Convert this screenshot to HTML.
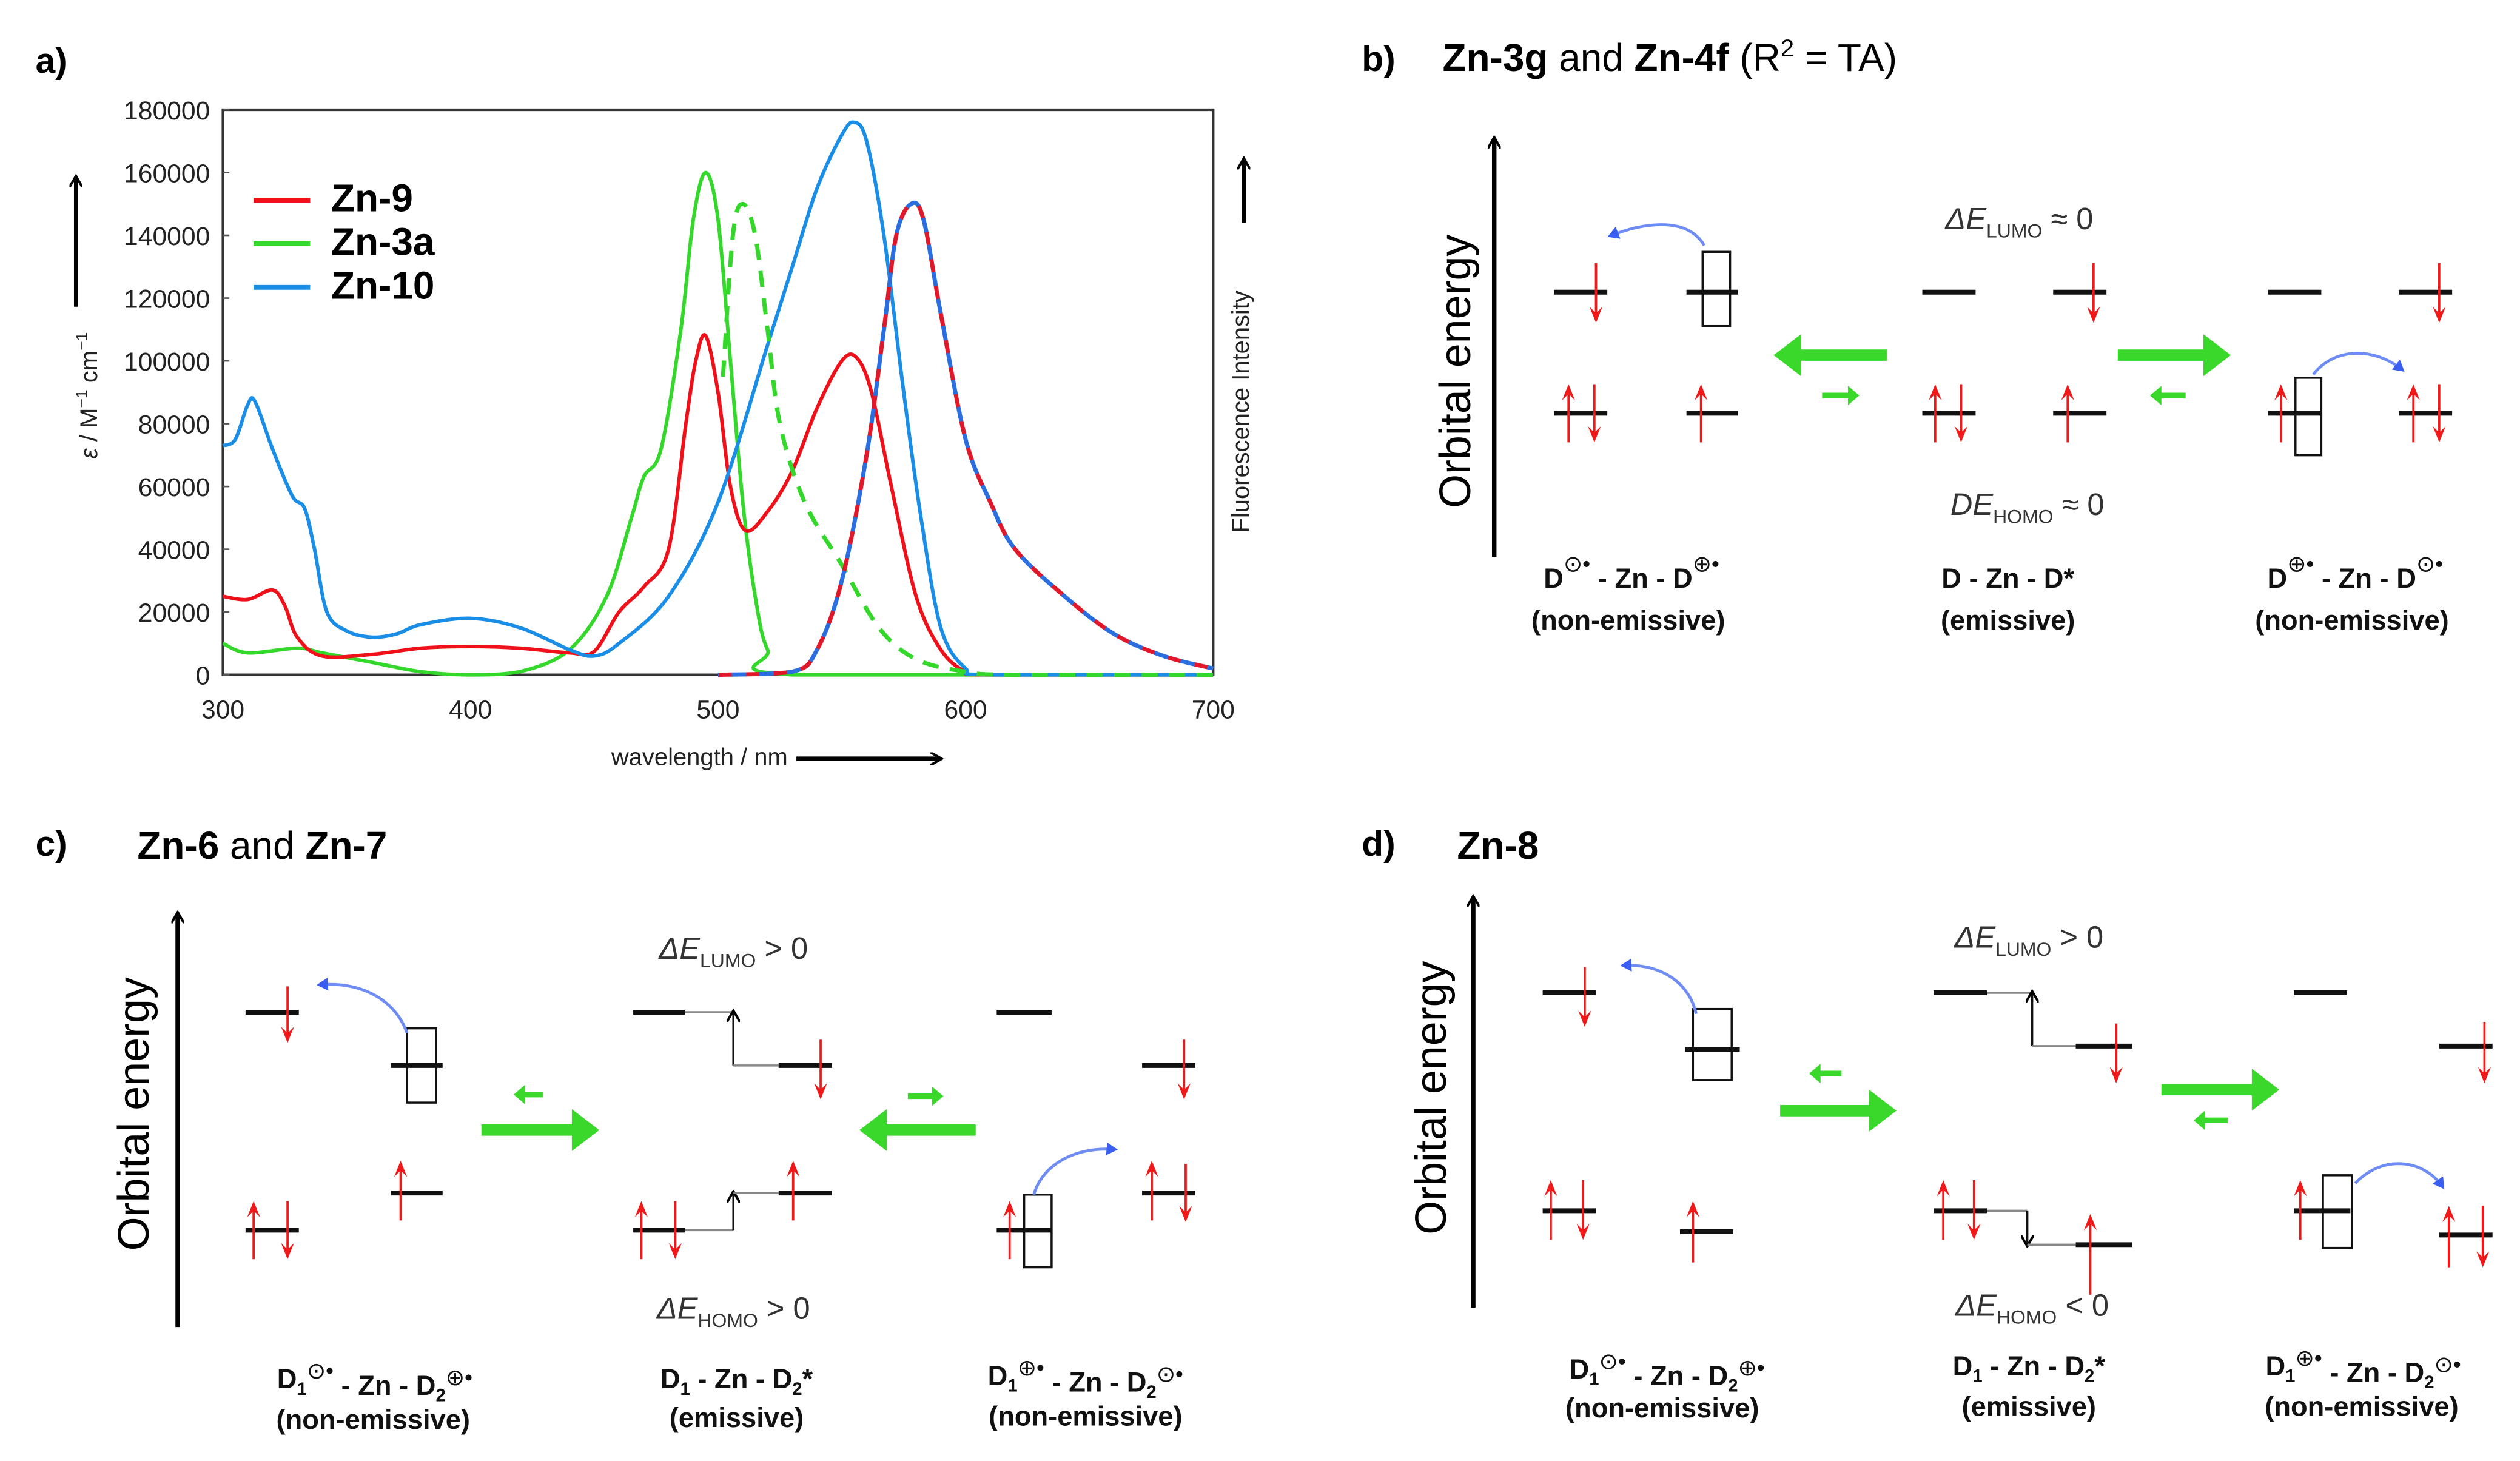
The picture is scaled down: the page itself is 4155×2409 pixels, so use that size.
<!DOCTYPE html>
<html><head><meta charset="utf-8">
<style>
html,body{margin:0;padding:0;background:#fff;}
svg{display:block;}
text{font-family:"Liberation Sans",sans-serif;}
</style></head>
<body>
<svg id="fig" width="4155" height="2409" viewBox="0 0 1560 905" preserveAspectRatio="none" xmlns="http://www.w3.org/2000/svg">
<rect x="0" y="0" width="1560" height="905" fill="#fff"/>
<defs>
<marker id="ah" markerWidth="8" markerHeight="8" refX="6" refY="4" orient="auto" markerUnits="userSpaceOnUse"><path d="M0,0 L7,4 L0,8" fill="none" stroke="#000" stroke-width="1.5"/></marker>
<marker id="bh" markerWidth="8" markerHeight="8" refX="5" refY="4" orient="auto" markerUnits="userSpaceOnUse"><path d="M0,0 L7,4 L0,8 Z" fill="#3a5ff0"/></marker>
</defs>
<g>
<text x="22" y="45" font-size="22" font-weight="bold">a)</text>
<g id="chart"></g>
<text transform="translate(60,245) rotate(-90)" text-anchor="middle" font-size="15" fill="#222"><tspan font-style="italic">ε</tspan> / M<tspan dy="-6" font-size="10">−1</tspan><tspan dy="6"> cm</tspan><tspan dy="-6" font-size="10">−1</tspan></text>
<line x1="47" y1="190" x2="47" y2="110" stroke="#000" stroke-width="2.4" marker-end="url(#ah)"/>
<text transform="translate(773,255) rotate(-90)" text-anchor="middle" font-size="15" fill="#222">Fluorescence Intensity</text>
<line x1="770" y1="138" x2="770" y2="99" stroke="#000" stroke-width="2.4" marker-end="url(#ah)"/>
<text x="433" y="474" text-anchor="middle" font-size="15" fill="#222">wavelength / nm</text>
<line x1="493" y1="470" x2="582" y2="470" stroke="#000" stroke-width="2.8" marker-end="url(#ah)"/>
<g>
<line x1="157" y1="124" x2="192" y2="124" stroke="#f0101a" stroke-width="3"/>
<text x="205" y="131" font-size="24" font-weight="bold">Zn-9</text>
<line x1="157" y1="151" x2="192" y2="151" stroke="#33d82a" stroke-width="3"/>
<text x="205" y="158" font-size="24" font-weight="bold">Zn-3a</text>
<line x1="157" y1="178" x2="192" y2="178" stroke="#1a8ee6" stroke-width="3"/>
<text x="205" y="185" font-size="24" font-weight="bold">Zn-10</text>
</g>
</g>
<g id="diagrams"></g>
</svg>
<script>
const xTicks = [300, 400, 500, 600, 700];
const yTicks = [0, 20000, 40000, 60000, 80000, 100000, 120000, 140000, 160000, 180000];
const zn9AbsX = [300,310,320,325,330,340,360,380,400,420,440,450,460,470,480,487,491,495,500,505,511,520,530,540,550,556,562,570,580,590,600,610,700];
const zn9AbsY = [25000,24000,27000,22000,12000,6000,6500,8500,9000,8500,7000,7500,20000,28000,40000,80000,100000,108000,90000,60000,46000,52000,65000,85000,100000,101000,90000,60000,25000,8000,1000,0,0];
const zn3aAbsX = [300,310,330,340,360,380,400,420,440,455,465,470,477,485,490,495,500,505,510,515,520,530,700];
const zn3aAbsY = [10000,7000,8500,7000,4000,1000,0,1000,8000,25000,50000,63000,72000,110000,145000,160000,145000,100000,55000,25000,8000,0,0];
const zn10AbsX = [300,305,310,313,320,328,333,337,342,350,360,370,380,400,420,440,450,460,480,500,520,530,540,550,555,560,567,575,582,590,600,610,700];
const zn10AbsY = [73000,75000,86000,87000,72000,57000,53000,40000,20000,14000,12000,13000,16000,18000,15000,8000,6000,10000,25000,55000,105000,130000,155000,172000,176000,170000,140000,90000,50000,15000,2000,0,0];
const zn3aEmX = [502,506,510,515,520,525,535,550,565,580,600,620,700];
const zn3aEmY = [95000,140000,150000,140000,110000,80000,55000,35000,15000,5000,1000,0,0];
const zn9EmX = [500,530,540,550,560,567,572,578,583,590,600,610,620,640,660,680,700];
const zn9EmY = [0,1000,8000,30000,70000,110000,140000,150000,145000,115000,75000,55000,40000,25000,13000,6000,2000];
const zn10EmX = [500,530,540,550,560,567,572,578,583,590,600,610,620,640,660,680,700];
const zn10EmY = [0,1000,8000,30000,70000,110000,140000,150000,145000,115000,75000,55000,40000,25000,13000,6000,2000];

const NS = 'http://www.w3.org/2000/svg';
const PL = 138, PR = 751, PT = 68, PB = 418;
function xs(w){ return PL + (w - 300) / 400 * (PR - PL); }
function ys(v){ return PB - v / 180000 * (PB - PT); }
const chart = document.getElementById('chart');
function mk(tag, attrs, parent){
  const e = document.createElementNS(NS, tag);
  for (const k in attrs) e.setAttribute(k, attrs[k]);
  parent.appendChild(e);
  return e;
}
let fr = mk('rect', {x:PL, y:PT, width:PR-PL, height:PB-PT, fill:'none', stroke:'#333', 'stroke-width':1.6}, chart);


yTicks.forEach(t => {
  const tl = mk('text', {x:130, y:ys(t)+6, 'text-anchor':'end', 'font-size':16, fill:'#222'}, chart);
  tl.textContent = t;
  
  
  const tk = mk('line', {x1:PL, x2:PL+4, y1:ys(t), y2:ys(t), stroke:'#555', 'stroke-width':1}, chart);
  
  
});
xTicks.forEach(t => {
  const tl = mk('text', {x:xs(t), y:445, 'text-anchor':'middle', 'font-size':16, fill:'#222'}, chart);
  tl.textContent = t;
  
  
});
function clampY(y){ return Math.max(PT, Math.min(PB, y)); }
function series(X, Y, color, dash, name, offset){
  const P = X.map((w,i) => [xs(w), ys(Y[i])]);
  let d = 'M' + P[0][0].toFixed(2) + ',' + P[0][1].toFixed(2);
  for (let i = 0; i < P.length - 1; i++) {
    const p0 = P[Math.max(0,i-1)], p1 = P[i], p2 = P[i+1], p3 = P[Math.min(P.length-1,i+2)];
    const c1x = p1[0] + (p2[0]-p0[0])/6, c1y = clampY(p1[1] + (p2[1]-p0[1])/6);
    const c2x = p2[0] - (p3[0]-p1[0])/6, c2y = clampY(p2[1] - (p3[1]-p1[1])/6);
    d += ` C${c1x.toFixed(2)},${c1y.toFixed(2)} ${c2x.toFixed(2)},${c2y.toFixed(2)} ${p2[0].toFixed(2)},${p2[1].toFixed(2)}`;
  }
  const p = mk('path', {d:d, fill:'none', stroke:color, 'stroke-width':2.2, 'stroke-linejoin':'round'}, chart);
  if (dash) { p.setAttribute('stroke-dasharray', dash); p.setAttribute('stroke-dashoffset', offset || 0); p.setAttribute('stroke-width', 2.6); }
  
  
}
series(zn3aAbsX, zn3aAbsY, '#33d82a', null, 'zn3a-absorption-line');
series(zn9AbsX, zn9AbsY, '#f0101a', null, 'zn9-absorption-line');
series(zn10AbsX, zn10AbsY, '#1a8ee6', null, 'zn10-absorption-line');
series(zn3aEmX, zn3aEmY, '#33d82a', '10 7', 'zn3a-emission-line', 0);
series(zn9EmX, zn9EmY, '#e0182a', '9 8', 'zn9-emission-line', 0);
series(zn10EmX, zn10EmY, '#2a6ee0', '9 8', 'zn10-emission-line', 8.5);

const G = document.getElementById('diagrams');
function txt(x, y, s, size, opts, name){
  const t = mk('text', Object.assign({x:x, y:y, 'font-size':size}, opts || {}), G);
  t.innerHTML = s;
  
  
  return t;
}
function level(x1, x2, y, name){
  const l = mk('line', {x1:x1, x2:x2, y1:y, y2:y, stroke:'#111', 'stroke-width':3}, G);
  
  
}
function gray(x1, y1, x2, y2){
  const l = mk('line', {x1:x1, x2:x2, y1:y1, y2:y2, stroke:'#888', 'stroke-width':1.3}, G);
  
  
}
function spin(x, y1, y2, name){
  const dir = y2 > y1 ? 1 : -1;
  const g = mk('g', {}, G);
  
  
  mk('line', {x1:x, x2:x, y1:y1, y2:y2 - dir*6, stroke:'#f01818', 'stroke-width':1.4}, g);
  mk('path', {d:`M${x-4},${y2-dir*10} L${x},${y2} L${x+4},${y2-dir*10} L${x},${y2-dir*6} Z`, fill:'#f01818'}, g);
}
function box(x, y, w, h){
  const r = mk('rect', {x:x, y:y, width:w, height:h, fill:'none', stroke:'#111', 'stroke-width':1.3}, G);
  
  
}
function curve(d){
  const p = mk('path', {d:d, fill:'none', stroke:'#6f8cf5', 'stroke-width':1.8, 'marker-end':'url(#bh)'}, G);
  
  
}
function green(x1, x2, y, big, name){
  const dir = x2 > x1 ? 1 : -1;
  const w = big ? 7 : 3.5, hl = big ? 17 : 7, hw = big ? 13 : 6;
  const p = mk('path', {d:`M${x1},${y-w/2} L${x2-dir*hl},${y-w/2} L${x2-dir*hl},${y-hw} L${x2},${y} L${x2-dir*hl},${y+hw} L${x2-dir*hl},${y+w/2} L${x1},${y+w/2} Z`, fill:'#3ad82a'}, G);
  
  
}
function bkarrow(x, y1, y2){
  const l = mk('line', {x1:x, x2:x, y1:y1, y2:y2, stroke:'#111', 'stroke-width':1.3, 'marker-end':'url(#ah)'}, G);
  
  
}
function axis(x, y1, y2, tx, ty){
  const l = mk('line', {x1:x, x2:x, y1:y1, y2:y2, stroke:'#000', 'stroke-width':2.8, 'marker-end':'url(#ah)'}, G);
  
  
  const t = mk('text', {transform:`translate(${tx},${ty}) rotate(-90)`, 'text-anchor':'middle', 'font-size':27}, G);
  t.textContent = 'Orbital energy';
  
  
}
const LB = {'font-size':17, 'font-weight':'bold', 'text-anchor':'middle', fill:'#111'};
const MIN = '<tspan dy="-10" font-size="14" font-weight="normal">⊙•</tspan><tspan dy="10">';
const PLU = '<tspan dy="-10" font-size="14" font-weight="normal">⊕•</tspan><tspan dy="10">';
function sub(n){ return `<tspan dy="4" font-size="11">${n}</tspan><tspan dy="-4">`; }

txt(843, 44, 'b)', 22, {'font-weight':'bold'}, 'panel-b-label');
txt(893, 44, '<tspan font-weight="bold">Zn-3g</tspan> and <tspan font-weight="bold">Zn-4f</tspan> (R<tspan dy="-9" font-size="15">2</tspan><tspan dy="9"> = TA)</tspan>', 24, {}, 'panel-b-title');
axis(925, 345, 86, 910, 230);
level(962,995,181,'lumo-level'); spin(988,163,200,'spin-down');
level(1044,1076,181,'lumo-level'); box(1054,156,17,46);
curve('M1055,152 C1045,135 1020,137 997,146');
level(962,995,256,'homo-level'); spin(971,274,238,'spin-up'); spin(987,238,274,'spin-down');
level(1044,1076,256,'homo-level'); spin(1053,274,238,'spin-up');
green(1168,1098,220,true,'equilibrium-arrow-left'); green(1128,1151,245,false,'minor-arrow-right');
level(1190,1223,181,'lumo-level'); level(1271,1304,181,'lumo-level'); spin(1296,163,200,'spin-down');
level(1190,1223,256,'homo-level'); spin(1198,274,238,'spin-up'); spin(1214,238,274,'spin-down');
level(1271,1304,256,'homo-level'); spin(1280,274,238,'spin-up');
green(1311,1381,220,true,'equilibrium-arrow-right'); green(1353,1331,245,false,'minor-arrow-left');
level(1404,1437,181,'lumo-level'); level(1485,1518,181,'lumo-level'); spin(1510,163,200,'spin-down');
level(1404,1437,256,'homo-level'); spin(1412,274,238,'spin-up'); box(1421,234,16,48);
curve('M1432,232 C1445,215 1470,215 1487,229');
level(1485,1518,256,'homo-level'); spin(1494,274,238,'spin-up'); spin(1510,238,274,'spin-down');
txt(1250, 142, '<tspan font-style="italic">ΔE</tspan><tspan dy="5" font-size="12">LUMO</tspan><tspan dy="-5"> ≈ 0</tspan>', 19, {'text-anchor':'middle', fill:'#333'}, 'delta-e-lumo');
txt(1255, 319, '<tspan font-style="italic">DE</tspan><tspan dy="5" font-size="12">HOMO</tspan><tspan dy="-5"> ≈ 0</tspan>', 19, {'text-anchor':'middle', fill:'#333'}, 'delta-e-homo');
txt(1010, 364, 'D'+MIN+' - Zn - D'+PLU+'</tspan></tspan>', 17, LB, 'state-label');
txt(1008, 390, '(non-emissive)', 17, LB, 'state-sublabel');
txt(1243, 364, 'D - Zn - D*', 17, LB, 'state-label');
txt(1243, 390, '(emissive)', 17, LB, 'state-sublabel');
txt(1458, 364, 'D'+PLU+' - Zn - D'+MIN+'</tspan></tspan>', 17, LB, 'state-label');
txt(1456, 390, '(non-emissive)', 17, LB, 'state-sublabel');

txt(22, 530, 'c)', 22, {'font-weight':'bold'}, 'panel-c-label');
txt(85, 532, '<tspan font-weight="bold">Zn-6</tspan> and <tspan font-weight="bold">Zn-7</tspan>', 24, {}, 'panel-c-title');
axis(110, 822, 566, 92, 690);
level(152,185,627,'lumo-level'); spin(178,611,646,'spin-down');
level(242,274,660,'lumo-level'); box(252,637,18,46);
curve('M252,640 C245,620 225,608 198,610');
level(152,185,762,'homo-level'); spin(157,780,744,'spin-up'); spin(178,744,780,'spin-down');
level(242,274,739,'homo-level'); spin(248,756,719,'spin-up');
green(298,371,700,true,'equilibrium-arrow-right'); green(336,318,678,false,'minor-arrow-left');
level(392,424,627,'lumo-level'); gray(424,627,454,627); bkarrow(454,660,627); gray(454,660,482,660);
level(482,515,660,'lumo-level'); spin(508,644,681,'spin-down');
level(392,424,762,'homo-level'); spin(397,780,744,'spin-up'); spin(418,744,780,'spin-down');
gray(424,762,454,762); bkarrow(454,762,739); gray(454,739,482,739);
level(482,515,739,'homo-level'); spin(491,756,719,'spin-up');
txt(454, 594, '<tspan font-style="italic">ΔE</tspan><tspan dy="5" font-size="12">LUMO</tspan><tspan dy="-5"> &gt; 0</tspan>', 19, {'text-anchor':'middle', fill:'#333'}, 'delta-e-lumo');
txt(454, 817, '<tspan font-style="italic">ΔE</tspan><tspan dy="5" font-size="12">HOMO</tspan><tspan dy="-5"> &gt; 0</tspan>', 19, {'text-anchor':'middle', fill:'#333'}, 'delta-e-homo');
green(604,532,700,true,'equilibrium-arrow-left'); green(562,584,679,false,'minor-arrow-right');
level(617,651,627,'lumo-level'); level(707,740,660,'lumo-level'); spin(733,644,681,'spin-down');
level(617,651,762,'homo-level'); spin(625,780,744,'spin-up'); box(634,740,17,45);
curve('M640,740 C645,722 665,710 690,712');
level(707,740,739,'homo-level'); spin(713,756,719,'spin-up'); spin(734,721,757,'spin-down');
txt(232, 860, 'D'+sub(1)+MIN+' - Zn - D'+sub(2)+PLU+'</tspan></tspan></tspan></tspan>', 17, LB, 'state-label');
txt(231, 885, '(non-emissive)', 17, LB, 'state-sublabel');
txt(456, 860, 'D'+sub(1)+' - Zn - D'+sub(2)+'*</tspan></tspan>', 17, LB, 'state-label');
txt(456, 884, '(emissive)', 17, LB, 'state-sublabel');
txt(672, 858, 'D'+sub(1)+PLU+' - Zn - D'+sub(2)+MIN+'</tspan></tspan></tspan></tspan>', 17, LB, 'state-label');
txt(672, 883, '(non-emissive)', 17, LB, 'state-sublabel');

txt(843, 530, 'd)', 22, {'font-weight':'bold'}, 'panel-d-label');
txt(902, 532, '<tspan font-weight="bold">Zn-8</tspan>', 24, {}, 'panel-d-title');
axis(912, 810, 556, 895, 680);
level(955,988,615,'lumo-level'); spin(981,599,636,'spin-down');
level(1043,1077,650,'lumo-level'); box(1048,625,24,44);
curve('M1050,628 C1046,610 1030,597 1005,598');
level(955,988,750,'homo-level'); spin(960,768,731,'spin-up'); spin(980,731,768,'spin-down');
level(1040,1073,763,'homo-level'); spin(1048,782,744,'spin-up');
green(1102,1174,688,true,'equilibrium-arrow-right'); green(1140,1120,665,false,'minor-arrow-left');
level(1197,1230,615,'lumo-level'); gray(1230,615,1258,615); bkarrow(1258,648,615); gray(1258,648,1285,648);
level(1285,1320,648,'lumo-level'); spin(1310,634,671,'spin-down');
level(1197,1230,750,'homo-level'); spin(1203,768,731,'spin-up'); spin(1222,731,768,'spin-down');
gray(1230,750,1255,750); bkarrow(1255,750,771); gray(1255,771,1285,771);
level(1285,1320,771,'homo-level'); spin(1294,802,752,'spin-up');
txt(1256, 587, '<tspan font-style="italic">ΔE</tspan><tspan dy="5" font-size="12">LUMO</tspan><tspan dy="-5"> &gt; 0</tspan>', 19, {'text-anchor':'middle', fill:'#333'}, 'delta-e-lumo');
txt(1258, 815, '<tspan font-style="italic">ΔE</tspan><tspan dy="5" font-size="12">HOMO</tspan><tspan dy="-5"> &lt; 0</tspan>', 19, {'text-anchor':'middle', fill:'#333'}, 'delta-e-homo');
green(1338,1411,675,true,'equilibrium-arrow-right'); green(1379,1358,694,false,'minor-arrow-left');
level(1420,1453,615,'lumo-level'); level(1510,1543,648,'lumo-level'); spin(1538,633,671,'spin-down');
level(1420,1455,750,'homo-level'); spin(1424,768,731,'spin-up'); box(1438,728,18,45);
curve('M1458,733 C1475,715 1500,718 1512,735');
level(1510,1543,765,'homo-level'); spin(1516,785,747,'spin-up'); spin(1537,747,785,'spin-down');
txt(1032, 854, 'D'+sub(1)+MIN+' - Zn - D'+sub(2)+PLU+'</tspan></tspan></tspan></tspan>', 17, LB, 'state-label');
txt(1029, 878, '(non-emissive)', 17, LB, 'state-sublabel');
txt(1256, 852, 'D'+sub(1)+' - Zn - D'+sub(2)+'*</tspan></tspan>', 17, LB, 'state-label');
txt(1256, 877, '(emissive)', 17, LB, 'state-sublabel');
txt(1463, 852, 'D'+sub(1)+PLU+' - Zn - D'+sub(2)+MIN+'</tspan></tspan></tspan></tspan>', 17, LB, 'state-label');
txt(1462, 877, '(non-emissive)', 17, LB, 'state-sublabel');
</script>
</body></html>
